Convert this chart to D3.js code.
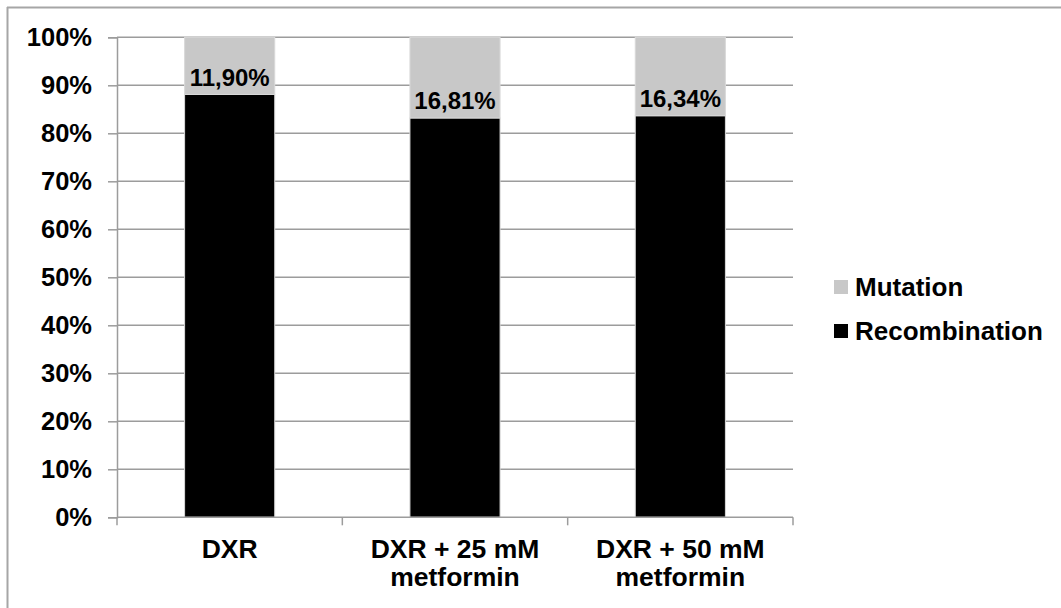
<!DOCTYPE html>
<html>
<head>
<meta charset="utf-8">
<script src="https://cdn.jsdelivr.net/npm/d3@7"></script>
<style>
  html, body { margin: 0; padding: 0; background: #fff; }
  svg { display: block; }
  text { font-family: "Liberation Sans", Arial, sans-serif; font-weight: bold; fill: #000; }
</style>
</head>
<body>
<script>
const categories = ["DXR", "DXR + 25 mM metformin", "DXR + 50 mM metformin"];
const categoryLines = [["DXR"], ["DXR + 25 mM", "metformin"], ["DXR + 50 mM", "metformin"]];
const recombination = [88.10, 83.19, 83.66];
const mutation = [11.90, 16.81, 16.34];
const mutationLabels = ["11,90%", "16,81%", "16,34%"];
const yTicks = [0, 10, 20, 30, 40, 50, 60, 70, 80, 90, 100];
const seriesNames = ["Mutation", "Recombination"];
const seriesColors = {"Mutation": "#c8c8c8", "Recombination": "#000000"};

const W = 1061, H = 608;
const svg = d3.select("body").append("svg").attr("width", W).attr("height", H);

// outer frame (top and left edges visible)
svg.append("line").attr("x1", 7).attr("x2", W).attr("y1", 7.5).attr("y2", 7.5)
  .attr("stroke", "#a6a6a6").attr("stroke-width", 2);
svg.append("line").attr("x1", 7.5).attr("x2", 7.5).attr("y1", 7).attr("y2", H)
  .attr("stroke", "#a6a6a6").attr("stroke-width", 2);

const plot = {left: 117, right: 793, top: 37.3, bottom: 517.3};

const x = d3.scaleBand().domain(categories).range([plot.left, plot.right])
  .paddingInner(0.6).paddingOuter(0.3);
const y = d3.scaleLinear().domain([0, 100]).range([plot.bottom, plot.top]);

const gridColor = "#9c9c9c";

// gridlines
svg.append("g").selectAll("line").data(yTicks.filter(d => d > 0)).join("line")
  .attr("x1", plot.left).attr("x2", plot.right)
  .attr("y1", d => y(d)).attr("y2", d => y(d))
  .attr("stroke", gridColor).attr("stroke-width", 1.5);

// y axis
const yAxis = d3.axisLeft(y).tickValues(yTicks).tickFormat(d => d + "%").tickSize(9).tickPadding(16);
const gy = svg.append("g").attr("transform", `translate(${plot.left},0)`).call(yAxis);
gy.select(".domain").attr("stroke", gridColor).attr("stroke-width", 1.5);
gy.selectAll(".tick line").attr("stroke", gridColor).attr("stroke-width", 1.5);
gy.selectAll(".tick text").style("font-size", "25.5px").style("font-family", "'Liberation Sans', Arial, sans-serif")
  .style("font-weight", "bold").attr("fill", "#000").attr("dy", "0.33em");

// bars
const barG = svg.append("g");
categories.forEach((c, i) => {
  barG.append("rect")
    .attr("x", x(c)).attr("width", x.bandwidth())
    .attr("y", y(recombination[i])).attr("height", y(0) - y(recombination[i]))
    .attr("fill", seriesColors["Recombination"]).attr("stroke", "#d9d9d9").attr("stroke-width", 1);
  barG.append("rect")
    .attr("x", x(c)).attr("width", x.bandwidth())
    .attr("y", y(recombination[i] + mutation[i])).attr("height", y(recombination[i]) - y(recombination[i] + mutation[i]))
    .attr("fill", seriesColors["Mutation"]).attr("stroke", "#d9d9d9").attr("stroke-width", 1);
  barG.append("text")
    .attr("x", x(c) + x.bandwidth() / 2).attr("y", y(recombination[i]) - 8.5)
    .attr("text-anchor", "middle").style("font-size", "24px")
    .text(mutationLabels[i]);
});

// x axis
const xAxisG = svg.append("g");
xAxisG.append("line").attr("x1", plot.left).attr("x2", plot.right)
  .attr("y1", plot.bottom).attr("y2", plot.bottom)
  .attr("stroke", gridColor).attr("stroke-width", 1.5);
const boundaries = [plot.left].concat(categories.map(c => x(c) + x.bandwidth() / 2 + x.step() / 2));
xAxisG.selectAll("line.tk").data(boundaries).join("line").attr("class", "tk")
  .attr("x1", d => d).attr("x2", d => d)
  .attr("y1", plot.bottom).attr("y2", plot.bottom + 8)
  .attr("stroke", gridColor).attr("stroke-width", 1.5);
categories.forEach((c, i) => {
  const t = xAxisG.append("text").attr("text-anchor", "middle").style("font-size", "26.5px");
  categoryLines[i].forEach((ln, j) => {
    t.append("tspan").attr("x", x(c) + x.bandwidth() / 2).attr("y", 557.5 + j * 28).text(ln);
  });
});

// legend
const legend = svg.append("g");
const legendY = [287, 331];
seriesNames.forEach((s, i) => {
  legend.append("rect").attr("x", 834).attr("y", legendY[i] - 7).attr("width", 14).attr("height", 14)
    .attr("fill", seriesColors[s]);
  legend.append("text").attr("x", 855).attr("y", legendY[i] + 8.7).style("font-size", "26px").text(s);
});
</script>
</body>
</html>
